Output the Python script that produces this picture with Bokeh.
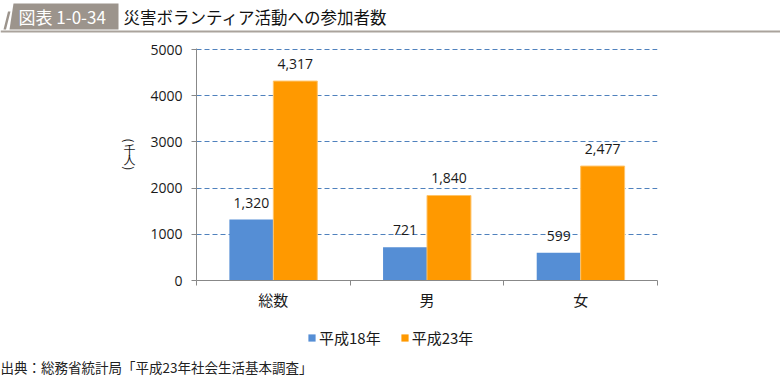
import math
from bokeh.plotting import figure
from bokeh.layouts import column, row
from bokeh.models import (Range1d, FixedTicker, Legend, LegendItem, Label, ColumnDataSource)
from bokeh.core.properties import value
from bokeh.embed import file_html
from bokeh.resources import INLINE

# ---- data ----
categories = ["総数", "男", "女"]
series_names = ["平成18年", "平成23年"]
h18 = [1320, 721, 599]
h23 = [4317, 1840, 2477]
y_ticks = [0, 1000, 2000, 3000, 4000, 5000]
y_label_chars = ["(", "千", "人", ")"]
fig_tag = "図表 1-0-34"
title_text = "災害ボランティア活動への参加者数"
source_note = "出典：総務省統計局「平成23年社会生活基本調査」"

# ---- style / layout constants ----
W = 780
HEAD_H, MID_H, FOOT_H = 33, 285, 57
YLAB_W = 140
BAR_W = 0.286
OFF = 0.143
BLUE = "#558ed5"
ORANGE = "#ff9900"
AXIS = "#888888"
BANNER = "#9c948c"
CJK = "Noto Sans CJK JP"
NUM = "Open Sans"
TXT = "#1a1a1a"


def blank(w, h):
    f = figure(width=w, height=h, output_backend="svg", toolbar_location=None,
               x_range=Range1d(0, w), y_range=Range1d(h, 0),
               x_axis_location=None, y_axis_location=None, min_border=0)
    f.outline_line_color = None
    f.grid.visible = False
    f.background_fill_color = "white"
    f.border_fill_color = "white"
    return f


# ---- header ----
head = blank(W, HEAD_H)
head.patch([13, 118, 118, 9], [3, 3, 29, 29], fill_color=BANNER, line_color=None)
head.patch([7.5, 10, 5.5, 3], [11, 11, 29, 29], fill_color=BANNER, line_color=None)
head.quad(left=0, right=W, top=30, bottom=32, fill_color="#aaa39c", line_color=None)
head.add_layout(Label(x=18, y=16, text=fig_tag, text_align="left", text_baseline="middle",
                      text_font=CJK, text_font_size="17px", text_color="white"))
head.add_layout(Label(x=123, y=16, text=title_text, text_align="left", text_baseline="middle",
                      text_font=CJK, text_font_size="16.5px", text_color="#111111"))

# ---- y label column (vertical, upright characters) ----
ylab = blank(YLAB_W, MID_H)
ylab_pos = [113, 124, 136, 147]
for ch, yy in zip(y_label_chars, ylab_pos):
    rot = -math.pi / 2 if ch in "()" else 0
    ylab.add_layout(Label(x=129, y=yy, text=ch, angle=rot, text_align="center",
                          text_baseline="middle", text_font=CJK, text_font_size="12px",
                          text_color=TXT))

# ---- main chart ----
idx = list(range(len(categories)))
src = ColumnDataSource(dict(
    x1=[i + 0.5 - OFF for i in idx],
    x2=[i + 0.5 + OFF for i in idx],
    h18=h18, h23=h23,
    l18=[f"{v:,}" for v in h18],
    l23=[f"{v:,}" for v in h23],
))

p = figure(width=W - YLAB_W, height=MID_H, output_backend="svg", toolbar_location=None,
           x_range=Range1d(0, len(categories)), y_range=Range1d(0, 5022),
           min_border_left=56, min_border_right=123, min_border_top=15, min_border_bottom=38)
p.outline_line_color = None
p.background_fill_color = "white"
p.border_fill_color = "white"

p.xgrid.grid_line_color = None
p.ygrid.ticker = FixedTicker(ticks=y_ticks[1:])
p.ygrid.grid_line_color = "#4f81bd"
p.ygrid.grid_line_dash = "5 3"
p.ygrid.grid_line_width = 1

r1 = p.vbar(x="x1", top="h18", width=BAR_W, source=src, fill_color=BLUE, line_color=None)
r2 = p.vbar(x="x2", top="h23", width=BAR_W, source=src, fill_color=ORANGE,
            line_color="#ffc46a", line_width=1)

for xc, yc, lc in (("x1", "h18", "l18"), ("x2", "h23", "l23")):
    p.text(x=xc, y=yc, text=lc, source=src, text_align="center", text_baseline="bottom",
           y_offset=-12, text_font=value(NUM), text_font_size="14px", text_color=TXT)

p.xaxis.ticker = FixedTicker(ticks=[i + 0.5 for i in idx],
                             minor_ticks=list(range(len(categories) + 1)))
p.xaxis.major_label_overrides = {i + 0.5: c for i, c in zip(idx, categories)}
p.xaxis.major_tick_out = 0
p.xaxis.major_tick_in = 0
p.xaxis.minor_tick_out = 5
p.xaxis.minor_tick_in = 0
p.xaxis.minor_tick_line_color = AXIS
p.xaxis.axis_line_color = AXIS
p.xaxis.major_label_standoff = 3
p.xaxis.major_label_text_font = CJK
p.xaxis.major_label_text_font_size = "15px"
p.xaxis.major_label_text_color = TXT

p.yaxis.ticker = FixedTicker(ticks=y_ticks)
p.yaxis.major_tick_out = 5
p.yaxis.major_tick_in = 0
p.yaxis.minor_tick_out = 0
p.yaxis.minor_tick_in = 0
p.yaxis.axis_line_color = AXIS
p.yaxis.major_tick_line_color = AXIS
p.yaxis.major_label_standoff = 9
p.yaxis.major_label_text_font = NUM
p.yaxis.major_label_text_font_size = "14px"
p.yaxis.major_label_text_color = TXT

# ---- footer: legend + source ----
foot = blank(W, FOOT_H)
# legend swatch renderers: zero-height, placed far outside the footer's visible range
g1 = foot.vbar(x=[-5000], top=[0], bottom=[0], width=1, fill_color=BLUE, line_color=None)
g2 = foot.vbar(x=[-5000], top=[0], bottom=[0], width=1, fill_color=ORANGE, line_color=None)
legend = Legend(items=[LegendItem(label=series_names[0], renderers=[g1]),
                       LegendItem(label=series_names[1], renderers=[g2])],
                orientation="horizontal", location=(307, 27.5),
                glyph_width=9, glyph_height=9, label_height=21, label_standoff=3,
                spacing=19, padding=0, margin=0,
                border_line_color=None, background_fill_alpha=0,
                label_text_font=CJK, label_text_font_size="15px",
                label_text_color=TXT, label_text_baseline="middle")
foot.add_layout(legend)
foot.add_layout(Label(x=0, y=48, text=source_note, text_align="left", text_baseline="middle",
                      text_font=CJK, text_font_size="13.5px", text_color="#222222"))

layout = column(head, row(ylab, p, spacing=0), foot, spacing=0)
open("out.html", "w").write(file_html(layout, INLINE))
